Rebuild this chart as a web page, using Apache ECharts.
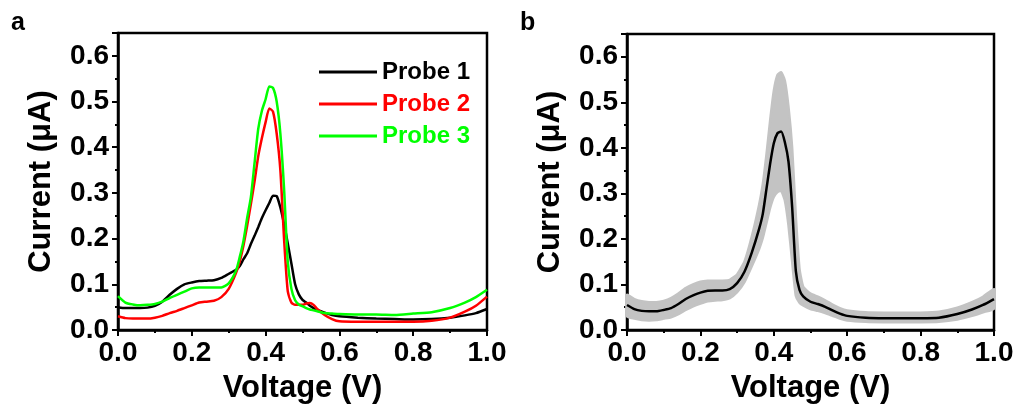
<!DOCTYPE html>
<html>
<head>
<meta charset="utf-8">
<script src="https://cdn.jsdelivr.net/npm/echarts@6/dist/echarts.min.js"></script>
<style>html,body{margin:0;padding:0;background:#fff}#c{width:1019px;height:409px}</style>
</head>
<body>
<div id="c"></div>
<script>
// ---- Panel a data ----
const voltsA = [0, 0.02, 0.04, 0.06, 0.08, 0.10, 0.12, 0.14, 0.16, 0.18, 0.20, 0.22, 0.24, 0.26, 0.28, 0.30, 0.32, 0.33, 0.34, 0.35, 0.36, 0.37, 0.38, 0.39, 0.40, 0.41, 0.42, 0.43, 0.44, 0.45, 0.46, 0.47, 0.48, 0.49, 0.50, 0.51, 0.52, 0.53, 0.54, 0.56, 0.58, 0.60, 0.65, 0.70, 0.75, 0.80, 0.85, 0.90, 0.94, 0.97, 1.00];
const probe1 = [0.050, 0.048, 0.048, 0.048, 0.049, 0.053, 0.062, 0.077, 0.090, 0.100, 0.104, 0.107, 0.108, 0.109, 0.114, 0.123, 0.132, 0.140, 0.155, 0.168, 0.188, 0.206, 0.225, 0.245, 0.262, 0.278, 0.294, 0.293, 0.268, 0.232, 0.190, 0.145, 0.100, 0.078, 0.066, 0.060, 0.053, 0.048, 0.044, 0.038, 0.033, 0.030, 0.027, 0.025, 0.024, 0.023, 0.024, 0.027, 0.032, 0.037, 0.046];
const probe2 = [0.030, 0.026, 0.025, 0.025, 0.025, 0.027, 0.031, 0.037, 0.042, 0.048, 0.054, 0.060, 0.062, 0.064, 0.072, 0.090, 0.125, 0.150, 0.185, 0.228, 0.275, 0.325, 0.380, 0.420, 0.455, 0.485, 0.478, 0.430, 0.350, 0.200, 0.085, 0.060, 0.055, 0.055, 0.055, 0.058, 0.059, 0.055, 0.046, 0.033, 0.024, 0.019, 0.018, 0.018, 0.018, 0.018, 0.020, 0.027, 0.040, 0.053, 0.073];
const probe3 = [0.074, 0.060, 0.056, 0.054, 0.055, 0.057, 0.062, 0.070, 0.077, 0.084, 0.091, 0.093, 0.093, 0.093, 0.093, 0.102, 0.130, 0.160, 0.195, 0.245, 0.290, 0.365, 0.440, 0.480, 0.505, 0.533, 0.530, 0.500, 0.430, 0.310, 0.150, 0.090, 0.065, 0.056, 0.052, 0.048, 0.045, 0.043, 0.041, 0.037, 0.036, 0.035, 0.034, 0.034, 0.033, 0.036, 0.039, 0.048, 0.060, 0.072, 0.088];
const probeNames = ['Probe 1', 'Probe 2', 'Probe 3'];

// ---- Panel b data ----
const voltsB = [0, 0.02, 0.04, 0.06, 0.08, 0.10, 0.12, 0.14, 0.16, 0.18, 0.20, 0.22, 0.24, 0.26, 0.28, 0.30, 0.32, 0.34, 0.36, 0.37, 0.38, 0.39, 0.40, 0.41, 0.42, 0.43, 0.44, 0.45, 0.46, 0.47, 0.48, 0.50, 0.52, 0.54, 0.56, 0.58, 0.60, 0.65, 0.70, 0.75, 0.80, 0.85, 0.90, 0.94, 0.97, 1.00];
const meanB = [0.055, 0.046, 0.042, 0.041, 0.041, 0.044, 0.048, 0.057, 0.068, 0.076, 0.082, 0.086, 0.087, 0.087, 0.090, 0.103, 0.128, 0.170, 0.222, 0.255, 0.310, 0.365, 0.410, 0.432, 0.436, 0.413, 0.370, 0.270, 0.130, 0.088, 0.074, 0.062, 0.057, 0.051, 0.043, 0.036, 0.031, 0.027, 0.026, 0.026, 0.026, 0.027, 0.035, 0.045, 0.055, 0.068];
const upperB = [0.077, 0.068, 0.063, 0.061, 0.061, 0.064, 0.070, 0.080, 0.092, 0.100, 0.106, 0.108, 0.108, 0.108, 0.110, 0.122, 0.150, 0.205, 0.275, 0.320, 0.385, 0.460, 0.525, 0.560, 0.566, 0.548, 0.490, 0.400, 0.250, 0.135, 0.095, 0.080, 0.073, 0.065, 0.056, 0.048, 0.043, 0.039, 0.038, 0.038, 0.038, 0.040, 0.049, 0.061, 0.073, 0.090];
const lowerB = [0.030, 0.025, 0.022, 0.021, 0.022, 0.025, 0.028, 0.035, 0.044, 0.052, 0.058, 0.063, 0.065, 0.066, 0.070, 0.083, 0.105, 0.140, 0.178, 0.202, 0.235, 0.268, 0.292, 0.303, 0.306, 0.285, 0.230, 0.150, 0.075, 0.060, 0.054, 0.046, 0.042, 0.037, 0.031, 0.025, 0.021, 0.018, 0.017, 0.017, 0.017, 0.018, 0.023, 0.031, 0.039, 0.047];

const xTitle = 'Voltage (V)';
const yTitle = 'Current (\u03bcA)';
const panelLabels = ['a', 'b'];

const FONT = '"Liberation Sans", Arial, sans-serif';
const colorsA = ['#000000', '#ff0000', '#00ff00'];

function pairs(xs, ys) { return xs.map((x, i) => [x, ys[i]]); }

function xAxisCfg(gi) {
  return {
    type: 'value', gridIndex: gi, min: 0, max: 1, interval: 0.2,
    name: xTitle, nameLocation: 'middle', nameGap: 43,
    nameTextStyle: { fontFamily: FONT, fontWeight: 'bold', fontSize: 31, color: '#000' },
    axisLine: { show: true, onZero: false, lineStyle: { color: '#000', width: 2.5 } },
    axisTick: { show: true, inside: false, length: 6, lineStyle: { color: '#000', width: 2 } },
    minorTick: { show: true, splitNumber: 2, length: 3, lineStyle: { color: '#000', width: 2 } },
    splitLine: { show: false },
    axisLabel: { fontFamily: FONT, fontWeight: 'bold', fontSize: 28, color: '#000', margin: 9,
      formatter: v => v.toFixed(1) }
  };
}
function yAxisCfg(gi) {
  return {
    type: 'value', gridIndex: gi, min: 0, max: 0.65, interval: 0.1,
    name: yTitle, nameLocation: 'middle', nameGap: 61,
    nameTextStyle: { fontFamily: FONT, fontWeight: 'bold', fontSize: 31, color: '#000' },
    axisLine: { show: true, onZero: false, lineStyle: { color: '#000', width: 2.5 } },
    axisTick: { show: true, inside: false, length: 6, lineStyle: { color: '#000', width: 2 } },
    minorTick: { show: true, splitNumber: 2, length: 3, lineStyle: { color: '#000', width: 2 } },
    splitLine: { show: false },
    axisLabel: { fontFamily: FONT, fontWeight: 'bold', fontSize: 28, color: '#000', margin: 9,
      formatter: v => (Math.abs(v * 10 - Math.round(v * 10)) < 1e-6 ? v.toFixed(1) : '') }
  };
}

const series = [];
[probe1, probe2, probe3].forEach((arr, i) => {
  series.push({
    name: probeNames[i], type: 'line', xAxisIndex: 0, yAxisIndex: 0,
    data: pairs(voltsA, arr), showSymbol: false, symbol: 'none', smooth: 0.2,
    lineStyle: { color: colorsA[i], width: 2.5 }, itemStyle: { color: colorsA[i] }, z: 3
  });
});
// Shaded band (upper/lower) drawn as one polygon through the axis scales
series.push({
  name: 'band', type: 'custom', xAxisIndex: 1, yAxisIndex: 1, silent: true, z: 2,
  data: voltsB.map((x, i) => [x, lowerB[i], upperB[i]]),
  encode: { x: 0, y: [1, 2] },
  renderItem: function (params, api) {
    if (params.dataIndex !== 0) return null;
    const top = voltsB.map((x, i) => api.coord([x, upperB[i]]));
    const bot = voltsB.map((x, i) => api.coord([x, lowerB[i]])).reverse();
    return {
      type: 'polygon',
      shape: { points: top.concat(bot), smooth: 0.15 },
      style: { fill: '#c3c3c3', stroke: '#c3c3c3', lineWidth: 2.5 }
    };
  }
});
series.push({
  name: 'mean', type: 'line', xAxisIndex: 1, yAxisIndex: 1,
  data: pairs(voltsB, meanB), symbol: 'none', smooth: 0.2,
  lineStyle: { color: '#000', width: 2.5 }, z: 4
});

const option = {
  backgroundColor: '#fff',
  animation: false,
  title: [
    { text: panelLabels[0], left: 11, top: 11, textStyle: { fontFamily: FONT, fontWeight: 'bold', fontSize: 25, color: '#000' }, padding: 0 },
    { text: panelLabels[1], left: 520, top: 11, textStyle: { fontFamily: FONT, fontWeight: 'bold', fontSize: 25, color: '#000' }, padding: 0 }
  ],
  legend: {
    left: 314, top: 55, orient: 'vertical', itemGap: 8,
    itemWidth: 58, itemHeight: 3, icon: 'rect',
    textStyle: { fontFamily: FONT, fontWeight: 'bold', fontSize: 24, lineHeight: 24 },
    data: probeNames.map((n, i) => ({ name: n, itemStyle: { color: colorsA[i] }, textStyle: { color: colorsA[i] } }))
  },
  grid: [
    { left: 118, top: 33, width: 369, height: 299, show: true, borderColor: '#000', borderWidth: 2.5, backgroundColor: 'transparent' },
    { left: 627, top: 34, width: 367, height: 298, show: true, borderColor: '#000', borderWidth: 2.5, backgroundColor: 'transparent' }
  ],
  xAxis: [xAxisCfg(0), xAxisCfg(1)],
  yAxis: [yAxisCfg(0), yAxisCfg(1)],
  series: series
};

const chart = echarts.init(document.getElementById('c'), null, { renderer: 'canvas' });
chart.setOption(option);
</script>
</body>
</html>
